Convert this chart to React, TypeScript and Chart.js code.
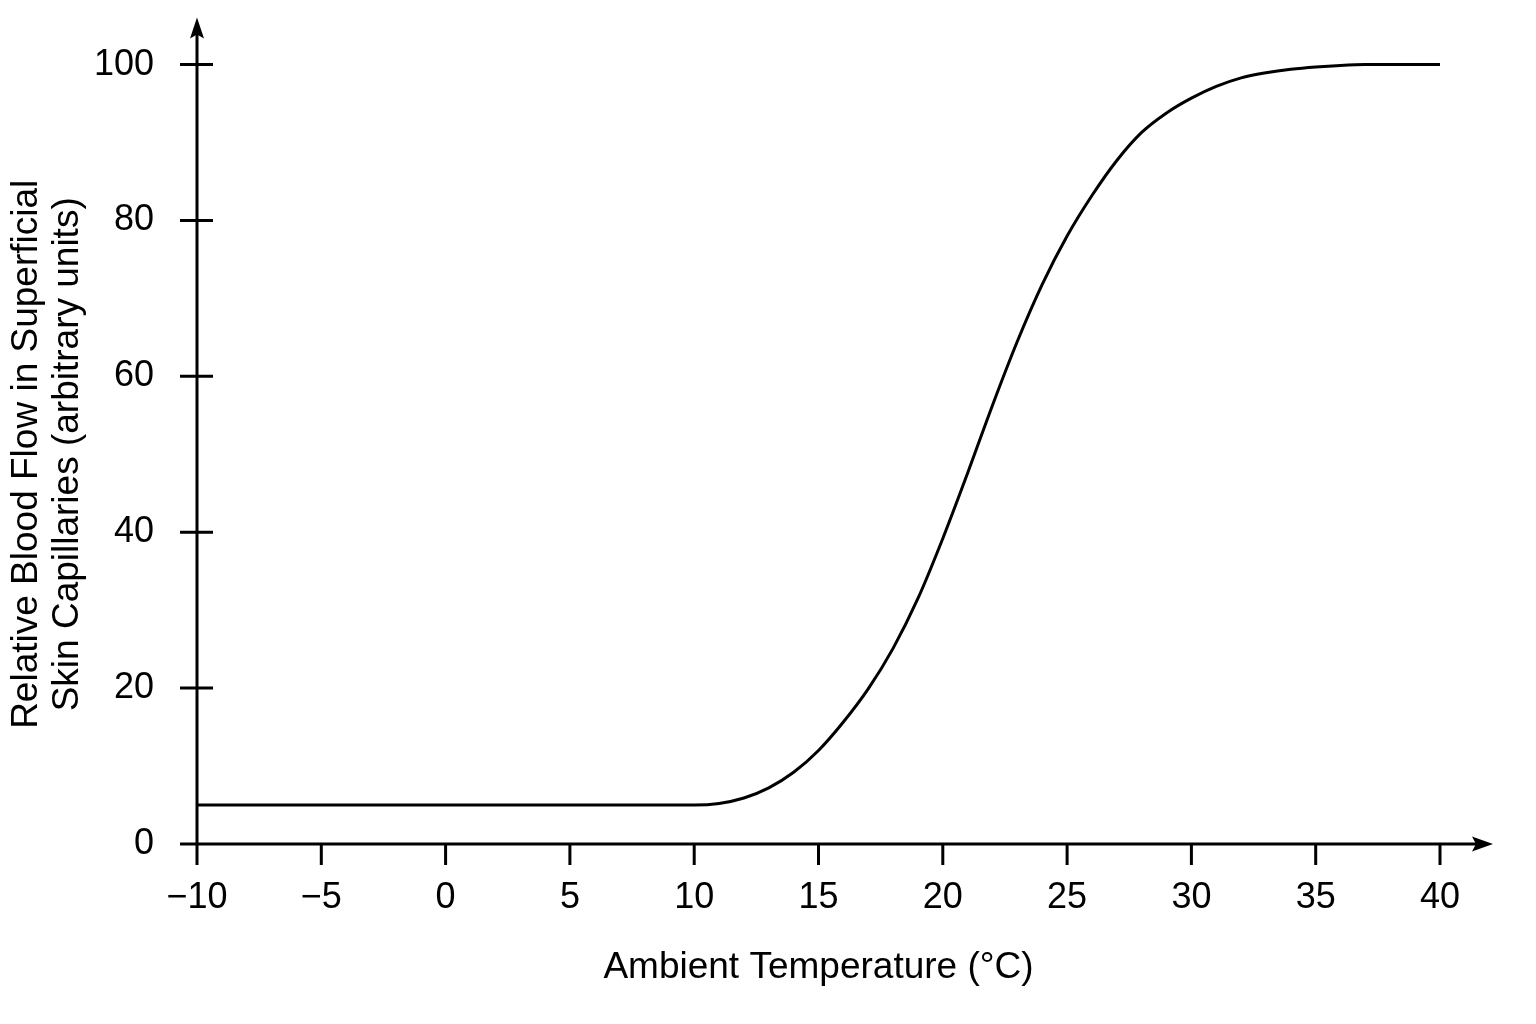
import React, { useEffect, useRef } from 'react';
import { Chart, ChartConfiguration, Plugin, registerables } from 'chart.js';

Chart.register(...registerables);

// Curve (temperature in °C, relative flow)
const temperature = [-10, 10, 11, 12, 13, 14, 15, 16, 17, 18, 19, 20, 21, 22, 23, 24, 25, 26, 27, 28, 29, 30, 31, 32, 33, 34, 35, 36, 37, 40];
const bloodFlow = [5, 5, 5.2, 5.9, 7.2, 9.2, 12.0, 15.65, 19.9, 25.1, 31.5, 39.2, 47.6, 56.3, 64.5, 71.8, 78.0, 83.2, 87.7, 91.3, 93.8, 95.7, 97.2, 98.3, 98.95, 99.4, 99.7, 99.9, 100, 100];

const xTickValues = [-10, -5, 0, 5, 10, 15, 20, 25, 30, 35, 40];
const yTickValues = [0, 20, 40, 60, 80, 100];

const xTitle = 'Ambient Temperature (°C)';
const yTitle = ['Relative Blood Flow in Superficial', 'Skin Capillaries (arbitrary units)'];

const FONT = "'Liberation Sans', Arial, Helvetica, sans-serif";

// Axis lines with overhangs, tick marks and arrowheads
const arrowAxes: Plugin = {
  id: 'arrowAxes',
  afterDatasetsDraw(chart) {
    const { ctx, chartArea, scales } = chart;
    const xs = scales.x;
    const ys = scales.y;
    const x0 = xs.getPixelForValue(xTickValues[0]);
    const y0 = ys.getPixelForValue(0);
    const xTip = chartArea.right + 53;
    const yTip = chartArea.top - 47;

    ctx.save();
    ctx.strokeStyle = '#000';
    ctx.fillStyle = '#000';
    ctx.lineWidth = 3;
    ctx.lineCap = 'butt';

    ctx.beginPath();
    ctx.moveTo(x0 - 17, y0);
    ctx.lineTo(xTip - 12, y0);
    ctx.moveTo(x0, y0 + 21);
    ctx.lineTo(x0, yTip + 12);
    xs.ticks.forEach((t) => {
      const px = xs.getPixelForValue(t.value);
      ctx.moveTo(px, y0);
      ctx.lineTo(px, y0 + 21);
    });
    ys.ticks.forEach((t) => {
      const py = ys.getPixelForValue(t.value);
      ctx.moveTo(x0 - 17, py);
      ctx.lineTo(x0 + 16, py);
    });
    ctx.stroke();

    // arrow on x axis
    ctx.beginPath();
    ctx.moveTo(xTip, y0);
    ctx.lineTo(xTip - 21, y0 - 7.5);
    ctx.lineTo(xTip - 17, y0);
    ctx.lineTo(xTip - 21, y0 + 7.5);
    ctx.closePath();
    ctx.fill();

    // arrow on y axis
    ctx.beginPath();
    ctx.moveTo(x0, yTip);
    ctx.lineTo(x0 - 7, yTip + 21);
    ctx.lineTo(x0, yTip + 17);
    ctx.lineTo(x0 + 7, yTip + 21);
    ctx.closePath();
    ctx.fill();
    ctx.restore();
  },
};

const App: React.FC = () => {
  const canvasRef = useRef<HTMLCanvasElement>(null);
  const chartRef = useRef<Chart | null>(null);

  useEffect(() => {
    document.body.style.margin = '0';
    document.body.style.background = '#fff';
    if (!canvasRef.current) return;
    if (chartRef.current) chartRef.current.destroy();

    const config: ChartConfiguration<'line'> = {
      type: 'line',
      data: {
        datasets: [
          {
            data: temperature.map((t, i) => ({ x: t, y: bloodFlow[i] })),
            borderColor: '#000',
            borderWidth: 3,
            pointRadius: 0,
            cubicInterpolationMode: 'monotone',
            fill: false,
            clip: false,
          },
        ],
      },
      options: {
        responsive: true,
        maintainAspectRatio: false,
        animation: false,
        events: [],
        layout: { padding: { left: 0, top: 63, right: 96, bottom: 0 } },
        plugins: {
          legend: { display: false },
          tooltip: { enabled: false },
        },
        scales: {
          x: {
            type: 'linear',
            min: -10,
            max: 40,
            afterBuildTicks: (scale) => {
              scale.ticks = xTickValues.map((v) => ({ value: v }));
            },
            afterFit: (scale) => {
              scale.height = 180;
            },
            grid: { display: false, drawTicks: false },
            border: { display: false },
            ticks: {
              color: '#000',
              padding: 32,
              maxRotation: 0,
              autoSkip: false,
              font: { family: FONT, size: 36 },
              callback: (v) => (Number(v) < 0 ? '\u2212' + Math.abs(Number(v)) : String(v)),
            },
            title: {
              display: true,
              text: xTitle,
              color: '#000',
              font: { family: FONT, size: 37 },
              padding: { top: 0, bottom: 34 },
            },
          },
          y: {
            type: 'linear',
            min: 0,
            max: 100,
            afterBuildTicks: (scale) => {
              scale.ticks = yTickValues.map((v) => ({ value: v }));
            },
            afterFit: (scale) => {
              scale.width = 197;
            },
            grid: { display: false, drawTicks: false },
            border: { display: false },
            ticks: {
              color: '#000',
              padding: 43,
              font: { family: FONT, size: 36 },
            },
            title: {
              display: true,
              text: yTitle,
              color: '#000',
              font: { family: FONT, size: 37, lineHeight: 1.12 },
              padding: { top: 6, bottom: 0 },
            },
          },
        },
      },
      plugins: [arrowAxes],
    };

    chartRef.current = new Chart(canvasRef.current, config);

    return () => {
      if (chartRef.current) {
        chartRef.current.destroy();
        chartRef.current = null;
      }
    };
  }, []);

  return (
    <div style={{ position: 'relative', width: 1536, height: 1024, background: '#fff' }}>
      <canvas ref={canvasRef} />
    </div>
  );
};

export default App;
